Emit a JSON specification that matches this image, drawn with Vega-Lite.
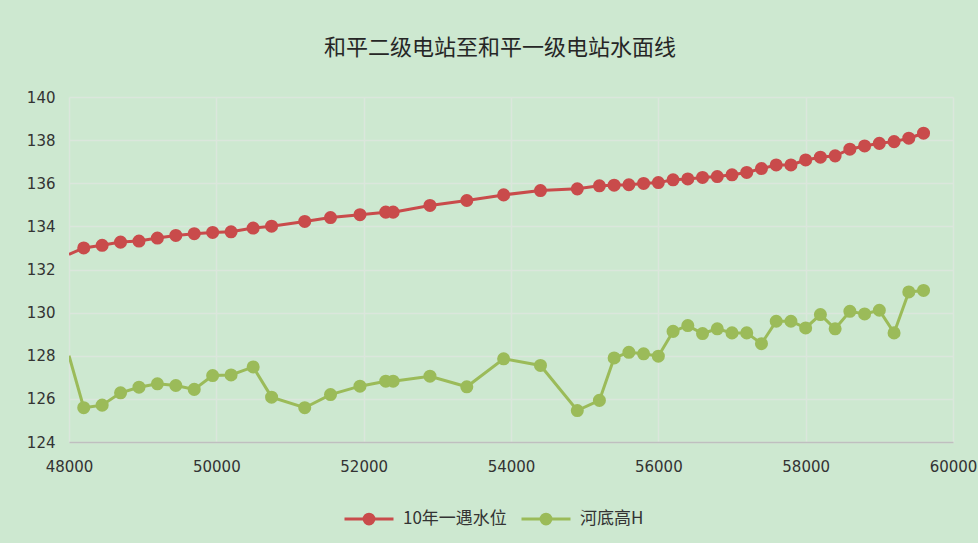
{
"$schema": "https://vega.github.io/schema/vega-lite/v6.json",
"width": 884, "height": 345,
"autosize": {"type": "none"},
"padding": {"left": 69, "top": 97, "right": 25, "bottom": 101},
"background": "#cde8d0",
"title": {"text": "和平二级电站至和平一级电站水面线", "fontSize": 22, "font": "Noto Sans CJK SC", "fontWeight": "normal", "color": "#262626", "offset": 30, "dx": -11},
"config": {"view": {"stroke": null}},
"data": {"values": [
{"x":48000,"s":"10年一遇水位","v":132.7},{"x":48200,"s":"10年一遇水位","v":133.0},{"x":48450,"s":"10年一遇水位","v":133.12},{"x":48700,"s":"10年一遇水位","v":133.27},{"x":48950,"s":"10年一遇水位","v":133.32},{"x":49200,"s":"10年一遇水位","v":133.46},{"x":49450,"s":"10年一遇水位","v":133.58},{"x":49700,"s":"10年一遇水位","v":133.66},{"x":49950,"s":"10年一遇水位","v":133.72},{"x":50200,"s":"10年一遇水位","v":133.75},{"x":50500,"s":"10年一遇水位","v":133.92},{"x":50750,"s":"10年一遇水位","v":134.01},{"x":51200,"s":"10年一遇水位","v":134.23},{"x":51550,"s":"10年一遇水位","v":134.41},{"x":51950,"s":"10年一遇水位","v":134.54},{"x":52300,"s":"10年一遇水位","v":134.66},{"x":52400,"s":"10年一遇水位","v":134.66},{"x":52900,"s":"10年一遇水位","v":134.97},{"x":53400,"s":"10年一遇水位","v":135.2},{"x":53900,"s":"10年一遇水位","v":135.46},{"x":54400,"s":"10年一遇水位","v":135.66},{"x":54900,"s":"10年一遇水位","v":135.74},{"x":55200,"s":"10年一遇水位","v":135.88},{"x":55400,"s":"10年一遇水位","v":135.91},{"x":55600,"s":"10年一遇水位","v":135.93},{"x":55800,"s":"10年一遇水位","v":135.99},{"x":56000,"s":"10年一遇水位","v":136.03},{"x":56200,"s":"10年一遇水位","v":136.16},{"x":56400,"s":"10年一遇水位","v":136.2},{"x":56600,"s":"10年一遇水位","v":136.27},{"x":56800,"s":"10年一遇水位","v":136.31},{"x":57000,"s":"10年一遇水位","v":136.39},{"x":57200,"s":"10年一遇水位","v":136.5},{"x":57400,"s":"10年一遇水位","v":136.68},{"x":57600,"s":"10年一遇水位","v":136.85},{"x":57800,"s":"10年一遇水位","v":136.85},{"x":58000,"s":"10年一遇水位","v":137.08},{"x":58200,"s":"10年一遇水位","v":137.21},{"x":58400,"s":"10年一遇水位","v":137.27},{"x":58600,"s":"10年一遇水位","v":137.58},{"x":58800,"s":"10年一遇水位","v":137.73},{"x":59000,"s":"10年一遇水位","v":137.85},{"x":59200,"s":"10年一遇水位","v":137.93},{"x":59400,"s":"10年一遇水位","v":138.09},{"x":59600,"s":"10年一遇水位","v":138.32},
{"x":48000,"s":"河底高H","v":128.0},{"x":48200,"s":"河底高H","v":125.59},{"x":48450,"s":"河底高H","v":125.71},{"x":48700,"s":"河底高H","v":126.28},{"x":48950,"s":"河底高H","v":126.54},{"x":49200,"s":"河底高H","v":126.7},{"x":49450,"s":"河底高H","v":126.62},{"x":49700,"s":"河底高H","v":126.44},{"x":49950,"s":"河底高H","v":127.08},{"x":50200,"s":"河底高H","v":127.11},{"x":50500,"s":"河底高H","v":127.48},{"x":50750,"s":"河底高H","v":126.08},{"x":51200,"s":"河底高H","v":125.59},{"x":51550,"s":"河底高H","v":126.2},{"x":51950,"s":"河底高H","v":126.59},{"x":52300,"s":"河底高H","v":126.82},{"x":52400,"s":"河底高H","v":126.82},{"x":52900,"s":"河底高H","v":127.05},{"x":53400,"s":"河底高H","v":126.56},{"x":53900,"s":"河底高H","v":127.86},{"x":54400,"s":"河底高H","v":127.55},{"x":54900,"s":"河底高H","v":125.46},{"x":55200,"s":"河底高H","v":125.93},{"x":55400,"s":"河底高H","v":127.9},{"x":55600,"s":"河底高H","v":128.16},{"x":55800,"s":"河底高H","v":128.09},{"x":56000,"s":"河底高H","v":127.98},{"x":56200,"s":"河底高H","v":129.13},{"x":56400,"s":"河底高H","v":129.4},{"x":56600,"s":"河底高H","v":129.03},{"x":56800,"s":"河底高H","v":129.25},{"x":57000,"s":"河底高H","v":129.06},{"x":57200,"s":"河底高H","v":129.06},{"x":57400,"s":"河底高H","v":128.56},{"x":57600,"s":"河底高H","v":129.6},{"x":57800,"s":"河底高H","v":129.6},{"x":58000,"s":"河底高H","v":129.29},{"x":58200,"s":"河底高H","v":129.91},{"x":58400,"s":"河底高H","v":129.25},{"x":58600,"s":"河底高H","v":130.06},{"x":58800,"s":"河底高H","v":129.94},{"x":59000,"s":"河底高H","v":130.11},{"x":59200,"s":"河底高H","v":129.06},{"x":59400,"s":"河底高H","v":130.96},{"x":59600,"s":"河底高H","v":131.03}
]},
"encoding": {
  "x": {"field": "x", "type": "quantitative", "scale": {"domain": [48000, 60000], "nice": false, "zero": false},
        "axis": {"title": null, "values": [48000,50000,52000,54000,56000,58000,60000], "format": "d", "ticks": false, "labelFlush": false, "domainColor": "#bfbfbf", "domainWidth": 1.5, "gridColor": "#dbe6dc", "gridWidth": 1.5, "labelFont": "DejaVu Sans", "labelFontSize": 15, "labelColor": "#333333", "labelPadding": 17}},
  "y": {"field": "v", "type": "quantitative", "scale": {"domain": [124, 140], "nice": false, "zero": false},
        "axis": {"title": null, "values": [124,126,128,130,132,134,136,138,140], "ticks": false, "labelFlush": false, "domain": false, "gridColor": "#dbe6dc", "gridWidth": 1.5, "labelFont": "DejaVu Sans", "labelFontSize": 15, "labelColor": "#333333", "labelPadding": 14}},
  "color": {"field": "s", "type": "nominal", "scale": {"domain": ["10年一遇水位", "河底高H"], "range": ["#c94b4b", "#9bbb59"]},
        "legend": {"title": null, "orient": "none", "direction": "horizontal", "legendX": 274, "legendY": 396, "symbolType": "M-1,0L1,0M-0.2,0A0.2,0.2,0,1,0,0.2,0A0.2,0.2,0,1,0,-0.2,0Z", "symbolSize": 2400, "symbolStrokeWidth": 3, "labelFont": "Noto Sans CJK SC", "labelFontSize": 17, "labelColor": "#333333", "columnPadding": 8, "labelOffset": 8,
          "encode": {"symbols": {"update": {"fill": {"scale": "color", "field": "value"}, "stroke": {"scale": "color", "field": "value"}, "opacity": {"value": 1}}}}}}
},
"layer": [
  {"mark": {"type": "line", "strokeWidth": 3, "clip": true}},
  {"transform": [{"filter": "datum.x > 48000"}], "mark": {"type": "point", "filled": true, "size": 170, "opacity": 1}}
]
}
